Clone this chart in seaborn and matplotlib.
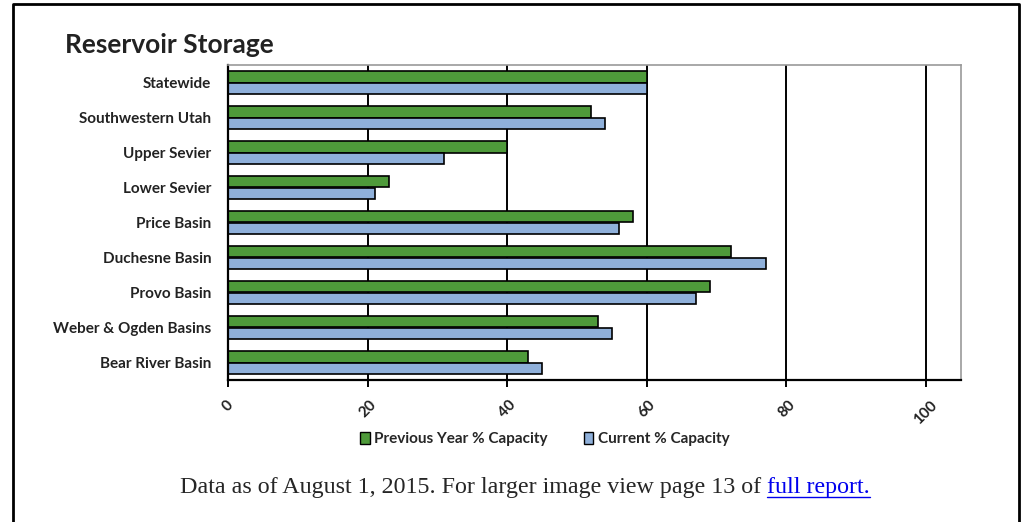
import pandas as pd
import matplotlib.pyplot as plt
import seaborn as sns
import numpy as np
from matplotlib.lines import Line2D
from matplotlib.patches import Patch

# Data
basins = ['Statewide', 'Southwestern Utah', 'Upper Sevier', 'Lower Sevier', 'Price Basin',
          'Duchesne Basin', 'Provo Basin', 'Weber & Ogden Basins', 'Bear River Basin']
previous_year = [60, 52, 40, 23, 58, 72, 69, 53, 43]
current = [60, 54, 31, 21, 56, 77, 67, 55, 45]
series_names = ['Previous Year % Capacity', 'Current % Capacity']
x_ticks = [0, 20, 40, 60, 80, 100]

df = pd.DataFrame({
    'Basin': basins * 2,
    'Capacity': previous_year + current,
    'Series': [series_names[0]] * len(basins) + [series_names[1]] * len(basins),
})

sns.set_style('white')
plt.rcParams['font.family'] = ['Lato', 'DejaVu Sans']

fig = plt.figure(figsize=(10.21, 5.22), dpi=100)
ax = fig.add_axes([228 / 1021, 1 - 380 / 522, 733 / 1021, 315 / 522])

colors = {series_names[0]: '#4E9A3A', series_names[1]: '#8FB0DA'}
sns.barplot(data=df, x='Capacity', y='Basin', hue='Series', order=basins,
            hue_order=series_names, palette=colors, orient='h', width=0.64,
            edgecolor='black', linewidth=1.2, ax=ax, legend=False, saturation=1)

ax.set_xlim(0, 105)
ax.set_xticks(x_ticks)
ax.set_xticklabels([str(t) for t in x_ticks], rotation=45, ha='center', va='top',
                   fontsize=11, fontweight='bold', color='#222222')
for t in x_ticks[1:]:
    ax.axvline(t, color='black', linewidth=1.4, zorder=0)

ax.set_yticks(np.arange(len(basins)))
ax.set_yticklabels(basins, fontsize=11, fontweight='bold', color='#222222')
ax.tick_params(axis='y', length=0, pad=12)
ax.tick_params(axis='x', length=5, width=1.4, color='black', direction='out', pad=8)
ax.xaxis.set_ticks_position('bottom')
# category boundary ticks on left spine
ax.set_yticks(np.arange(-0.5, len(basins), 1), minor=True)
ax.tick_params(axis='y', which='minor', length=5, width=1.4, color='black', direction='out')
ax.set_ylim(len(basins) - 0.5, -0.5)
ax.set_xlabel('')
ax.set_ylabel('')

for side in ['left', 'bottom']:
    ax.spines[side].set_color('black')
    ax.spines[side].set_linewidth(1.6)
for side in ['top', 'right']:
    ax.spines[side].set_color('#999999')
    ax.spines[side].set_linewidth(1.2)

handles = [Patch(facecolor=colors[s], edgecolor='black', linewidth=1) for s in series_names]
fig.legend(handles, series_names, loc='center', bbox_to_anchor=(545 / 1021, 1 - 439 / 522),
           ncol=2, frameon=False, handlelength=0.6, handleheight=0.9, handletextpad=0.3,
           columnspacing=2.4, prop={'family': 'Lato', 'weight': 'bold', 'size': 11})

fig.text(65 / 1021, 1 - 45 / 522, 'Reservoir Storage', fontsize=19, fontweight='bold',
         color='#222222', va='center', ha='left')

# caption with link styled part
cap = fig.text(180 / 1021, 1 - 487 / 522, 'Data as of August 1, 2015. For larger image view page 13 of ',
               fontsize=17.3, family='Liberation Serif', va='center', ha='left')
fig.canvas.draw()
bb = cap.get_window_extent()
link_x = bb.x1 / fig.bbox.width
link = fig.text(link_x, 1 - 487 / 522, 'full report.', fontsize=17.3, family='Liberation Serif',
                va='center', ha='left', color='#0000EE')
fig.canvas.draw()
lb = link.get_window_extent()
fig.add_artist(Line2D([lb.x0 / fig.bbox.width, lb.x1 / fig.bbox.width],
                      [(lb.y0 + 1) / fig.bbox.height] * 2, color='#0000EE', linewidth=1))

# outer border (left, top, right)
fig.add_artist(Line2D([13 / 1021, 13 / 1021, 1019 / 1021, 1019 / 1021],
                      [0, 1 - 4 / 522, 1 - 4 / 522, 0], color='black', linewidth=2))

fig.savefig('out.png', dpi=100, facecolor='white')
